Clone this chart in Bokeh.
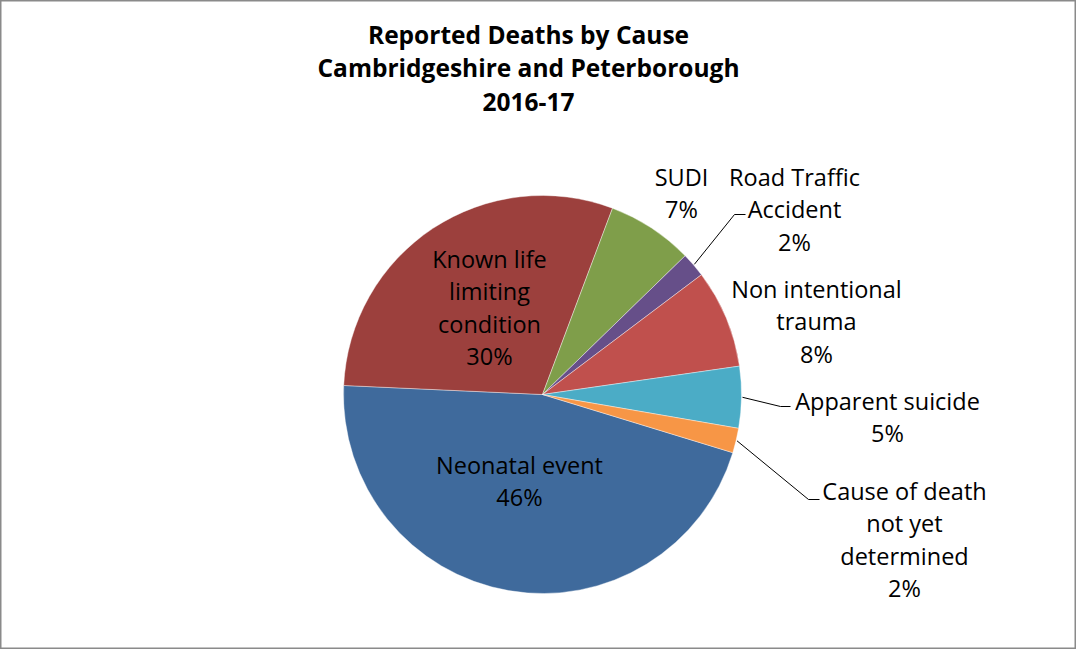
import numpy as np
from bokeh.plotting import figure
from bokeh.models import Range1d, ColumnDataSource
from bokeh.core.properties import value
from bokeh.embed import file_html
from bokeh.resources import INLINE

# ---- data ----
categories = ["Neonatal event", "Known life limiting condition", "SUDI",
              "Road Traffic Accident", "Non intentional trauma",
              "Apparent suicide", "Cause of death not yet determined"]
percentages = [46, 30, 7, 2, 8, 5, 2]
label_lines = [["Neonatal event"],
               ["Known life", "limiting", "condition"],
               ["SUDI"],
               ["Road Traffic", "Accident"],
               ["Non intentional", "trauma"],
               ["Apparent suicide"],
               ["Cause of death", "not yet", "determined"]]
colors = ["#3F6A9C", "#9C403D", "#7F9E4A", "#664F89", "#C0504D", "#4BACC6", "#F79646"]
title_lines = ["Reported Deaths by Cause", "Cambridgeshire and Peterborough", "2016-17"]

# ---- layout ----
W, H = 1076, 649
FONT = "Open Sans"
cx, cy, R = 542, 255, 199
first_angle = 107.0  # degrees clockwise from 12 o'clock

# label anchor (x of centre, y of first line) and line spacing
label_pos = [(519, 185), (489, 391), (681, 473), (794, 473),
             (816, 361), (887, 249), (904, 159)]
line_gap = 32.5
# leader elbows for small slices (index -> (elbow, end))
leaders = {3: ((734, 435), (745, 435)),
           5: ((780, 243), (790, 243)),
           6: ((808, 150), (819, 150))}

p = figure(width=W, height=H, x_range=Range1d(0, W), y_range=Range1d(0, H),
           output_backend="svg", toolbar_location=None, min_border=0)
p.axis.visible = False
p.xgrid.visible = False
p.ygrid.visible = False
p.outline_line_color = "#8A8A8A"
p.outline_line_width = 2
p.background_fill_color = "white"
p.border_fill_color = "white"

vals = np.array(percentages, dtype=float)
tot = vals.sum()
cum = np.concatenate([[0], np.cumsum(vals)])
start0 = np.deg2rad(90 - first_angle)
starts = start0 - 2 * np.pi * cum[:-1] / tot
ends = start0 - 2 * np.pi * cum[1:] / tot
mids = (starts + ends) / 2

src = ColumnDataSource(dict(start=starts, end=ends, color=colors,
                            x=[cx] * len(vals), y=[cy] * len(vals)))
p.wedge(x="x", y="y", radius=R, start_angle="start", end_angle="end",
        direction="clock", fill_color="color", line_color="white",
        line_alpha=0.5, line_width=0.8, source=src)

# leader lines
for i, (elbow, end) in leaders.items():
    sx = cx + (R + 1) * np.cos(mids[i])
    sy = cy + (R + 1) * np.sin(mids[i])
    p.line([sx, elbow[0], end[0]], [sy, elbow[1], end[1]],
           line_color="black", line_width=1)

# labels
tx, ty, tt = [], [], []
for i, lines in enumerate(label_lines):
    x0, y0 = label_pos[i]
    all_lines = lines + [f"{percentages[i]}%"]
    for k, t in enumerate(all_lines):
        tx.append(x0)
        ty.append(y0 - k * line_gap)
        tt.append(t)
p.text(x=tx, y=ty, text=tt, text_align="center", text_baseline="middle",
       text_font=value(FONT), text_font_size="23.5px", text_color="black")

# title
p.text(x=[528] * 3, y=[615, 582, 548], text=title_lines, text_align="center",
       text_baseline="middle", text_font=value(FONT), text_font_size="24.5px",
       text_font_style="bold", text_color="black")

open("out.html", "w").write(file_html(p, INLINE))
